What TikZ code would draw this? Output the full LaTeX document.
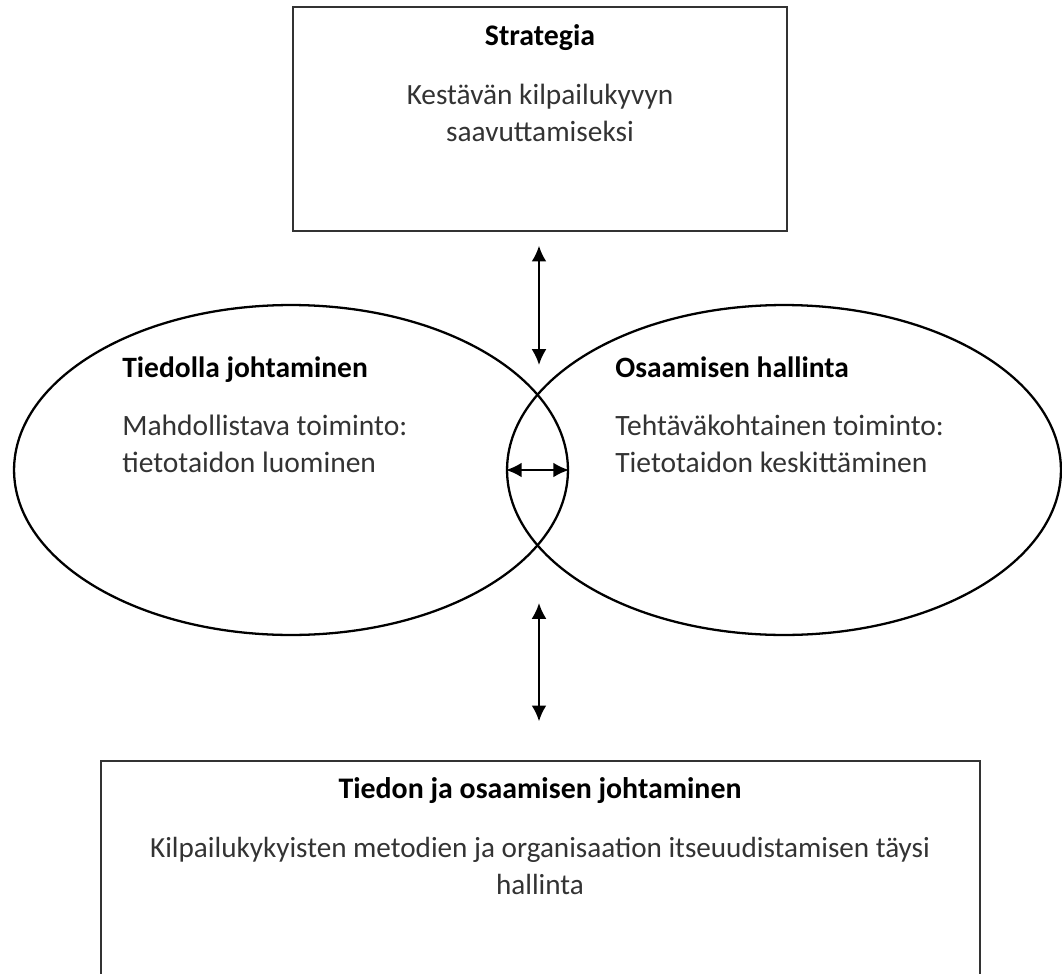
\documentclass[tikz,border=0pt]{standalone}
\usepackage{fontspec}
\setmainfont{Carlito}
\usetikzlibrary{shapes.geometric,arrows.meta}
\begin{document}
\begin{tikzpicture}[x=0.02cm, y=-0.02cm,
		heading/.style={font=\fontsize{#1}{21}\selectfont\bfseries, inner sep=0pt},
		body/.style={font=\fontsize{#1}{21}\selectfont, text=black!80, inner sep=0pt},
		frame/.style={draw=black!80, line width=0.8pt, inner sep=0pt},
		oval/.style={draw, ellipse, line width=1.3pt, minimum width=11.08cm, minimum height=6.6cm, inner sep=0pt},
		biarrow/.style={line width=1.3pt, {Latex[length=9pt,width=8.5pt]}-{Latex[length=9pt,width=8.5pt]}}]
	\clip (0,0) rectangle (1062,974);
	% boxes and ovals
	\node [frame, minimum width=9.88cm, minimum height=4.48cm] (strategia) at (540,119) {};
	\node [frame, minimum width=17.58cm, minimum height=5.2cm] (johtaminen) at (540.5,891) {};
	\node [oval] (tiedolla) at (291,470) {};
	\node [oval] (osaaminen) at (784,470) {};
	% texts (base = last line)
	\node [heading=17, anchor=base] (strategiaT) at (540,45) {Strategia};
	\node [body=16.7, anchor=base, align=center] (strategiaB) at (540,141) {Kestävän kilpailukyvyn\\saavuttamiseksi};
	\node [heading=16.8, anchor=base west] (tiedollaT) at (122,377) {Tiedolla johtaminen};
	\node [body=16.8, anchor=base west, align=left] (tiedollaB) at (122,472) {Mahdollistava toiminto:\\tietotaidon luominen};
	\node [heading=16.8, anchor=base west] (osaaminenT) at (615,377) {Osaamisen hallinta};
	\node [body=16.8, anchor=base west, align=left] (osaaminenB) at (615,472) {Tehtäväkohtainen toiminto:\\Tietotaidon keskittäminen};
	\node [heading=17, anchor=base] (johtaminenT) at (540,798) {Tiedon ja osaamisen johtaminen};
	\node [body=16.6, anchor=base, align=center] (johtaminenB) at (540,894) {Kilpailukykyisten metodien ja organisaation itseuudistamisen täysi\\hallinta};
	% arrows
	\coordinate (upper) at (539,393);
	\coordinate (lower) at (539,545);
	\draw [biarrow, shorten <=0.28cm, shorten >=0.56cm] (strategia.south -| upper) -- (upper);
	\draw [biarrow, shorten <=1.16cm, shorten >=0.78cm] (lower) -- (johtaminen.north -| lower);
	\draw [biarrow] (osaaminen.west) -- (tiedolla.east);
\end{tikzpicture}
\end{document}
